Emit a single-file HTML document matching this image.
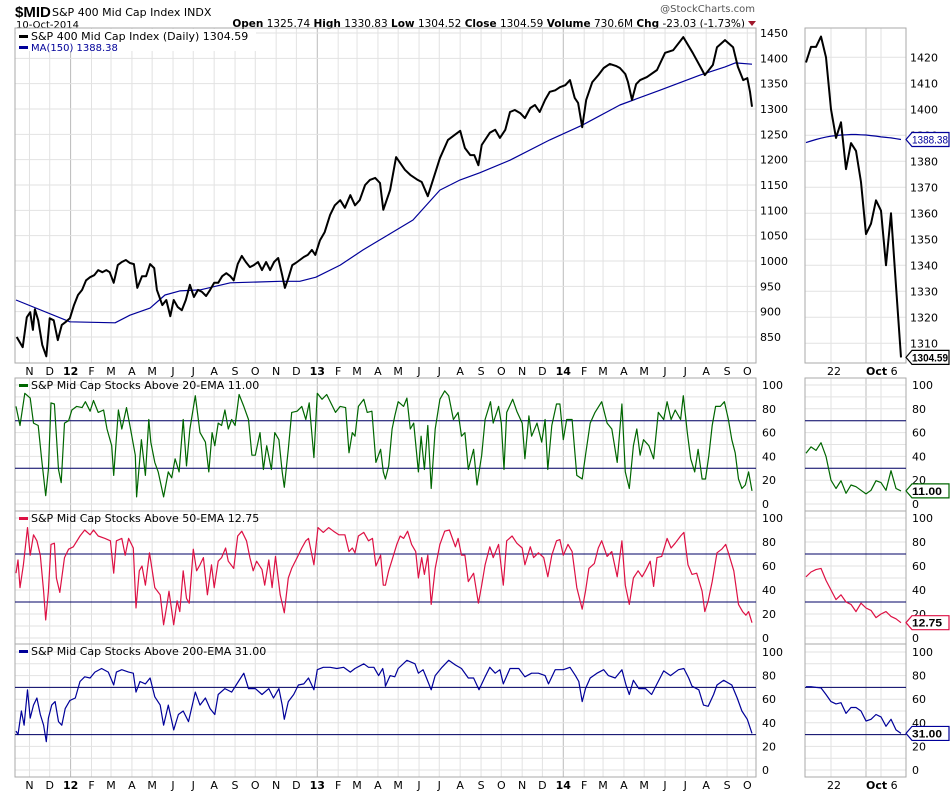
<!DOCTYPE html>
<html><head><meta charset="utf-8"><style>
html,body{margin:0;padding:0;background:#fff;}
svg{display:block;font-family:"DejaVu Sans","Liberation Sans",sans-serif;}
</style></head><body>
<svg id="chart" width="950" height="795" viewBox="0 0 950 795" xmlns="http://www.w3.org/2000/svg">
<g id="header">
<text x="15" y="17" font-size="15" font-weight="bold" font-family="Liberation Sans, sans-serif">$MID</text>
<text x="52" y="16" font-size="11">S&amp;P 400 Mid Cap Index  INDX</text>
<text x="16" y="28" font-size="10">10-Oct-2014</text>
<text x="755" y="12" font-size="10" fill="#555" text-anchor="end">@StockCharts.com</text>
<text x="745" y="27" font-size="10.5" text-anchor="end"><tspan font-weight="bold">Open</tspan> 1325.74 <tspan font-weight="bold">High</tspan> 1330.83 <tspan font-weight="bold">Low</tspan> 1304.52 <tspan font-weight="bold">Close</tspan> 1304.59 <tspan font-weight="bold">Volume</tspan> 730.6M <tspan font-weight="bold">Chg</tspan> -23.03 (-1.73%)</text>
<path d="M748 21 L756 21 L752 26 Z" fill="#a0182c"/>
</g>
<g id="grid"></g>
<g id="marks"></g>
<g id="labels"></g>
</svg>
<script>
// ---------- DATA ----------
const priceDays=[1,10,16,21,25,28,33,39,45,50,56,62,68,74,80,86,92,98,104,110,116,122,128,134,139,145,151,157,163,169,175,180,187,193,199,205,209,217,223,229,234,240,246,252,258,264,270,276,282,288,294,300,306,312,318,323,329,335,341,347,353,359,365,371,377,383,389,395,399,404,410,415,421,427,433,439,444,451,458,466,473,481,488,496,503,510,518,525,533,540,545,555,564,577,585,596,602,611,629,641,651,659,666,674,680,686,691,703,711,718,726,733,740,748,755,763,770,777,785,792,800,807,815,822,829,834,840,846,855,864,872,881,890,896,904,908,914,920,926,936,951,963,975,990,1004,1018,1022,1034,1040,1052,1064,1071,1079,1085,1089,1092];
const priceVals=[850,830,889,899,864,905,883,834,812,887,883,844,874,880,887,913,933,943,962,968,972,982,978,982,978,957,992,998,1002,996,994,947,970,970,994,986,943,913,923,891,923,909,903,923,953,929,943,939,931,943,957,957,970,976,970,962,994,1010,998,988,992,998,982,998,982,998,1006,972,947,966,992,996,1002,1008,1012,1022,1012,1041,1057,1091,1110,1120,1105,1130,1110,1120,1150,1160,1164,1154,1101,1140,1205,1180,1170,1160,1156,1128,1203,1239,1249,1257,1223,1209,1209,1189,1229,1253,1259,1243,1259,1294,1298,1292,1282,1302,1308,1294,1318,1334,1337,1343,1347,1357,1322,1312,1264,1318,1353,1367,1381,1389,1385,1381,1369,1353,1318,1349,1357,1363,1377,1411,1416,1442,1411,1377,1367,1387,1422,1436,1422,1383,1357,1361,1334,1304.59];
const maDays=[0,80,147,169,199,221,243,273,318,392,421,445,481,515,589,629,659,688,733,792,840,896,955,1015,1052,1067,1092];
const maVals=[923,880,878,893,907,933,941,943,957,960,960,968,992,1022,1081,1140,1160,1174,1199,1239,1268,1308,1337,1367,1383,1391,1388.38];
const ema20Days=[0,6,13,21,26,33,38,44,48,52,57,63,67,72,78,83,90,98,103,110,115,122,130,135,142,145,152,157,164,169,177,179,186,192,197,200,206,211,219,226,231,236,242,248,253,258,266,273,281,286,291,295,300,305,310,315,320,325,331,338,345,350,355,362,367,372,379,384,390,395,398,404,409,417,424,430,435,442,447,454,461,468,474,481,489,494,499,503,508,516,521,528,534,541,545,548,553,558,562,567,575,580,585,590,597,601,606,611,616,622,629,636,642,649,656,661,666,671,679,684,691,696,704,708,716,720,724,728,737,743,751,755,761,765,773,780,785,789,795,802,807,812,817,825,832,840,845,852,859,869,877,884,892,899,904,910,916,921,926,931,939,946,953,961,966,972,978,986,990,996,1001,1007,1012,1018,1023,1028,1033,1038,1045,1051,1057,1062,1067,1072,1077,1082,1087,1092];
const ema20Vals=[82,66,93,89,68,66,38,7,29,85,84,29,18,68,70,79,82,81,86,78,87,77,79,63,49,24,79,63,81,66,41,6,54,24,71,52,35,27,6,27,22,38,27,71,32,63,91,60,52,27,60,49,68,66,79,63,71,66,92,82,71,41,41,60,29,49,29,60,54,27,14,46,77,78,82,71,85,39,93,88,92,84,77,82,81,43,60,57,82,88,77,78,35,46,27,21,32,63,74,86,82,89,63,68,27,57,29,66,13,63,88,95,91,71,77,57,60,29,46,16,41,71,86,68,82,68,29,77,88,78,68,38,74,57,68,52,71,29,66,84,84,54,71,71,24,21,41,68,77,86,68,63,35,84,27,13,49,63,41,54,49,38,77,71,86,71,79,71,91,60,38,27,46,21,21,41,66,82,82,86,71,54,43,21,13,16,27,11];
const ema50Days=[0,3,6,11,17,21,26,31,36,41,44,48,52,57,60,65,72,78,85,95,102,110,115,122,132,140,145,149,157,162,167,174,178,183,187,192,198,202,206,214,219,224,227,234,239,243,248,253,257,263,268,273,278,284,290,294,300,305,311,315,323,329,335,342,347,352,357,365,369,375,380,385,392,398,404,409,417,424,430,434,442,448,456,464,471,479,488,494,499,503,508,516,523,529,534,541,545,548,553,559,565,570,575,581,587,593,597,602,606,611,616,622,629,636,643,652,656,661,666,671,679,686,691,696,703,708,716,723,728,736,743,751,755,763,768,775,783,789,795,802,807,812,819,825,832,840,845,850,858,864,869,877,884,892,899,904,910,916,923,929,934,941,946,951,958,966,972,978,986,991,997,1003,1010,1018,1022,1027,1033,1040,1047,1053,1057,1065,1072,1078,1083,1087,1092];
const ema50Vals=[54,65,42,61,92,69,86,81,69,39,15,39,78,79,50,38,67,74,76,85,90,86,90,85,83,81,54,81,83,69,83,75,25,56,60,44,71,57,42,36,11,28,39,11,31,22,56,33,29,74,56,61,67,36,61,42,64,67,75,64,58,85,89,81,67,56,64,57,44,65,42,68,36,21,50,58,67,75,81,83,61,92,88,92,89,86,86,72,75,71,85,88,81,83,60,69,44,44,56,67,78,85,83,89,78,72,50,67,53,69,28,58,78,89,90,76,83,69,69,47,54,29,44,61,76,67,78,44,81,85,79,75,61,76,67,71,67,51,69,81,82,69,78,72,42,24,39,58,62,75,81,68,72,51,81,44,28,50,56,51,56,64,43,67,68,83,75,79,85,88,61,53,54,39,22,31,47,71,74,78,71,56,28,22,19,22,12.75];
const ema200Days=[0,3,8,12,17,21,26,31,36,41,45,48,53,58,63,68,73,80,88,95,102,110,117,127,137,145,149,157,167,174,178,184,192,199,206,214,219,226,234,241,248,256,266,273,281,288,295,300,310,320,330,338,345,355,365,375,382,390,395,398,404,412,419,427,434,442,447,456,466,476,486,496,503,516,523,531,538,544,547,548,555,562,567,580,592,597,604,609,616,622,632,642,652,661,671,679,687,696,703,711,718,723,733,746,755,765,775,785,790,800,812,822,830,835,840,845,852,862,872,879,889,899,905,910,916,924,934,943,951,961,971,983,991,998,1003,1013,1020,1027,1035,1040,1050,1062,1070,1077,1085,1092];
const ema200Vals=[33,30,50,38,68,44,55,61,47,38,24,44,55,58,41,38,52,59,61,75,79,78,83,86,83,72,83,85,83,82,66,75,73,78,62,55,38,55,34,47,50,41,66,55,61,52,47,64,69,66,75,82,69,69,64,69,61,69,55,43,58,64,72,73,78,68,85,87,87,86,87,83,86,90,87,87,80,86,78,71,80,79,86,93,90,82,85,78,68,80,87,93,89,86,78,78,68,79,87,82,85,73,86,86,79,82,82,80,73,85,85,87,80,75,58,69,78,82,85,80,78,85,72,64,76,69,69,64,73,84,80,85,86,78,71,68,55,54,64,72,76,72,61,50,43,31];
// mini (zoomed) panel, trading days Sep 15 - Oct 10 2014
const miniDates=["15","16","17","18","19","22","23","24","25","26","29","30","Oct 1","2","3","6","7","8","9","10"];
const miniPrice=[1418,1424,1424,1428,1420,1400,1389,1395,1377,1387,1384,1372,1352,1356,1365,1361,1340,1360,1332,1304.59];
const miniMA=[1387.2,1387.8,1388.4,1388.9,1389.3,1389.7,1389.9,1390.1,1390.2,1390.3,1390.3,1390.2,1390.1,1389.9,1389.7,1389.4,1389.2,1389,1388.7,1388.38];
const mini20=[42.6,48,45,51.5,40,20,13,19.6,9,16,14.5,11.5,8.5,11.5,19.6,18,11.5,28,13,11];
const mini50=[51,55,57,58,48,40,32,36,30,28,22,29,25,23,17,20,22,18,16,12.75];
const mini200=[70.6,70.6,70,69.6,64,58,56,57,48,53,53,50,41.5,43,47,45,37,43,34,31];
const priceTicks=[850,900,950,1000,1050,1100,1150,1200,1250,1300,1350,1400,1450];
const miniPriceTicks=[1310,1320,1330,1340,1350,1360,1370,1380,1390,1400,1410,1420];
const pctTicks=[0,20,40,60,80,100];
const monthLetters=["J","F","M","A","M","J","J","A","S","O","N","D"];

// ---------- AXES ----------
const NS="http://www.w3.org/2000/svg";
const gGrid=document.getElementById('grid'),gMarks=document.getElementById('marks'),gLab=document.getElementById('labels');
const L=15,R=756,ML=805,MR=906;
const xDay=d=>16+d*0.674;
const xMini=i=>806+i*5;
const panels=[
 {top:28,bot:363,y:v=>33+(1450-v)*0.5067},
 {top:378,bot:511,y:v=>385+(100-v)*1.19},
 {top:511,bot:644,y:v=>518+(100-v)*1.2},
 {top:644,bot:777,y:v=>652+(100-v)*1.18}
];
const yMiniPrice=v=>57.3+(1420-v)*2.6;
function el(tag,attrs,parent){const e=document.createElementNS(NS,tag);for(const k in attrs)e.setAttribute(k,attrs[k]);parent.appendChild(e);return e;}
function line(x1,y1,x2,y2,stroke,w,parent,name){const e=el('line',{x1,y1,x2,y2,stroke,'stroke-width':w},parent);

return e;}
function text(x,y,s,size,parent,name,extra){const e=el('text',Object.assign({x,y,'font-size':size},extra||{}),parent);e.textContent=s;

return e;}
function poly(xs,ys,color,w,parent,name){const pts=xs.map((x,i)=>x.toFixed(1)+','+ys[i].toFixed(1)).join(' ');
const e=el('polyline',{points:pts,fill:'none',stroke:color,'stroke-width':w,'stroke-linejoin':'round'},parent);

return e;}

const start=new Date(2011,9,12);
const months=[];
for(let y=2011;y<=2014;y++)for(let m=0;m<12;m++){const d=new Date(y,m,1);const dd=Math.round((d-start)/86400000);if(dd>0&&dd<1096)months.push({dd,m,y});}
panels.forEach((p,pi)=>{
 months.forEach(mo=>line(xDay(mo.dd),p.top,xDay(mo.dd),p.bot,mo.m===0?'#bbb':'#e2e2e2',1,gGrid,'month-gridline'));
 const ticks=pi===0?priceTicks:[0,10,20,30,40,50,60,70,80,90,100];
 ticks.forEach(t=>line(L,p.y(t),R,p.y(t),'#e2e2e2',1,gGrid,'value-gridline'));
 [5,12,15].forEach(i=>line(xMini(i),p.top,xMini(i),p.bot,i===12?'#bbb':'#e2e2e2',1,gGrid,'mini-date-gridline'));
 const mt=pi===0?miniPriceTicks:[0,10,20,30,40,50,60,70,80,90,100];
 mt.forEach(t=>{const yy=pi===0?yMiniPrice(t):p.y(t);line(ML,yy,MR,yy,'#e2e2e2',1,gGrid,'mini-value-gridline');});
 const fr=el('rect',{x:L,y:p.top,width:R-L,height:p.bot-p.top,fill:'none',stroke:'#aaa'},gGrid);
 
 
 const fr2=el('rect',{x:ML,y:p.top,width:MR-ML,height:p.bot-p.top,fill:'none',stroke:'#aaa'},gGrid);
 
 
 if(pi===0){priceTicks.forEach(t=>text(760,p.y(t)+4,String(t),11,gLab,'price-axis-label'));
  miniPriceTicks.forEach(t=>text(910,yMiniPrice(t)+4,String(t),11,gLab,'mini-price-axis-label'));}
 else{pctTicks.forEach(t=>{const yy=Math.min(Math.max(p.y(t),p.top+5),p.bot-3);text(762,yy+4,String(t),11,gLab,'percent-axis-label');text(912,yy+4,String(t),11,gLab,'mini-percent-axis-label');});}
 if(pi>0){[30,70].forEach(v=>{line(L,p.y(v),R,p.y(v),'#000066',1,gMarks,'reference-line-'+v);line(ML,p.y(v),MR,p.y(v),'#000066',1,gMarks,'mini-reference-line-'+v);});}
});
[375,789].forEach(by=>{
 months.forEach(mo=>{const isY=mo.m===0;text(xDay(mo.dd),by,isY?String(mo.y).slice(2):monthLetters[mo.m],11,gLab,isY?'year-label':'month-label',{'text-anchor':'middle','font-weight':isY?'bold':'normal'});});
 text(xMini(5)+3,by,'22',11,gLab,'mini-date-label',{'text-anchor':'middle'});
 const t=text(xMini(12),by,'',11,gLab,'mini-date-label',{});
 const a=el('tspan',{'font-weight':'bold'},t);a.textContent='Oct';const b=el('tspan',{},t);b.textContent=' 6';
});

// ---------- SERIES ----------
const P=panels;
poly(maDays.map(xDay),maVals.map(P[0].y),'#000099',1.2,gMarks,'ma150-line');
poly(priceDays.map(xDay),priceVals.map(P[0].y),'#000',2,gMarks,'price-line');
poly(ema20Days.map(xDay),ema20Vals.map(P[1].y),'#006600',1.2,gMarks,'above-20ema-line');
poly(ema50Days.map(xDay),ema50Vals.map(P[2].y),'#dd1144',1.2,gMarks,'above-50ema-line');
poly(ema200Days.map(xDay),ema200Vals.map(P[3].y),'#000099',1.2,gMarks,'above-200ema-line');
const mi=miniDates.map((d,i)=>xMini(i));
poly(mi,miniMA.map(yMiniPrice),'#000099',1.2,gMarks,'mini-ma150-line');
poly(mi,miniPrice.map(yMiniPrice),'#000',2,gMarks,'mini-price-line');
poly(mi,mini20.map(P[1].y),'#006600',1.2,gMarks,'mini-above-20ema-line');
poly(mi,mini50.map(P[2].y),'#dd1144',1.2,gMarks,'mini-above-50ema-line');
poly(mi,mini200.map(P[3].y),'#000099',1.2,gMarks,'mini-above-200ema-line');

function tag(y,s,color,bold,name){
 const g=el('g',{},gLab);
 
 
 el('path',{d:`M906 ${y} L912 ${y-7} L949 ${y-7} L949 ${y+7} L912 ${y+7} Z`,fill:'#fff',stroke:color,'stroke-width':1.2},g);
 const t=el('text',{x:912,y:y+4,'font-size':11,'font-family':'Liberation Sans, sans-serif','font-weight':bold?'bold':'normal',fill:bold?'#000':color,textLength:s.length>5?36:30,lengthAdjust:'spacingAndGlyphs'},g);t.textContent=s;
}
tag(yMiniPrice(1388.38),'1388.38','#000099',false,'ma-value-tag');
tag(yMiniPrice(1304.59),'1304.59','#000',true,'price-value-tag');
tag(P[1].y(11),'11.00','#006600',true,'ema20-value-tag');
tag(P[2].y(12.75),'12.75','#dd1144',true,'ema50-value-tag');
tag(P[3].y(31),'31.00','#000099',true,'ema200-value-tag');

function legend(y,color,s,name,size){
 const g=el('g',{},gLab);
 
 
 el('rect',{x:19,y:y-5,width:9,height:3,fill:color},g);
 const t=el('text',{x:31,y:y,'font-size':size||11,fill:name==='ma-legend'?color:'#000'},g);t.textContent=s;
}
const bg=el('rect',{x:16,y:29,width:240,height:22,fill:'#fff'},gLab);


legend(40,'#000','S&P 400 Mid Cap Index (Daily) 1304.59','price-legend',11);
legend(51,'#000099','MA(150) 1388.38','ma-legend',10);
legend(389,'#006600','S&P Mid Cap Stocks Above 20-EMA 11.00','ema20-legend',11);
legend(522,'#dd1144','S&P Mid Cap Stocks Above 50-EMA 12.75','ema50-legend',11);
legend(655,'#000099','S&P Mid Cap Stocks Above 200-EMA 31.00','ema200-legend',11);
</script>
</body></html>
